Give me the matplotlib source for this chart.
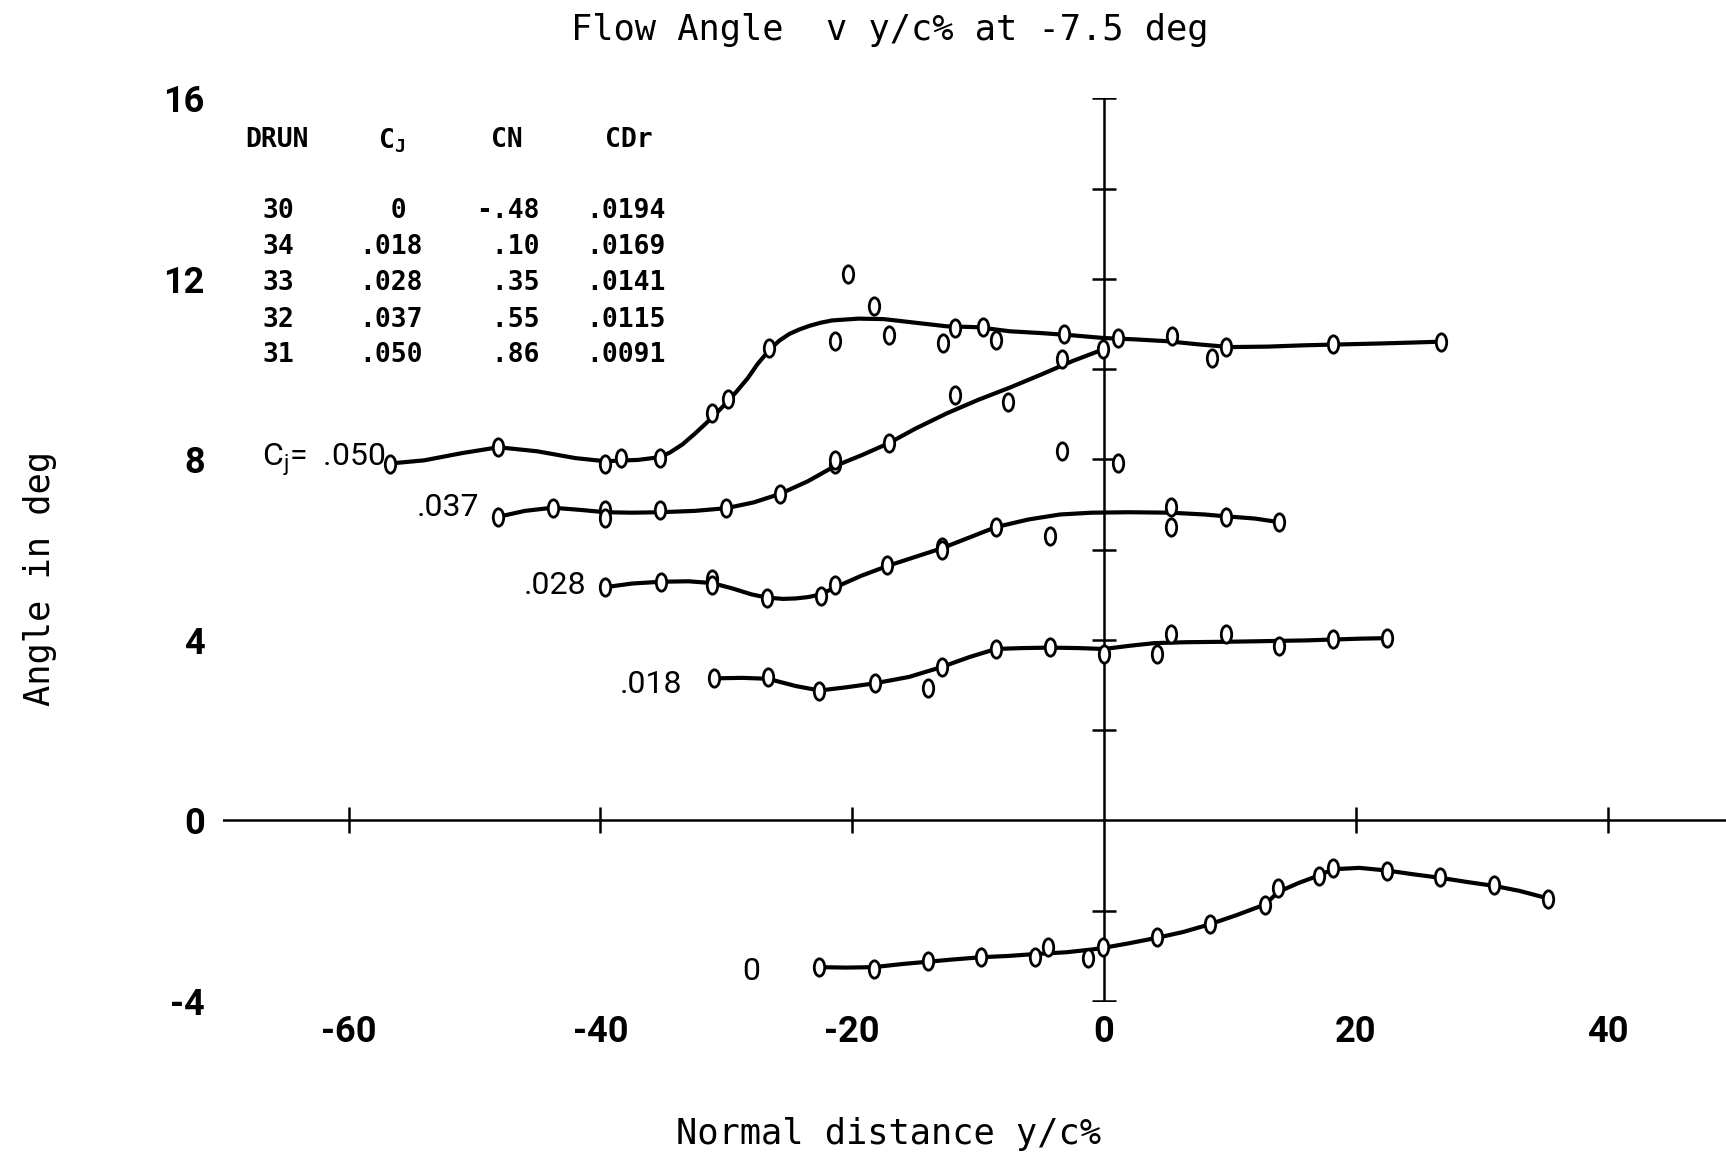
import matplotlib
matplotlib.use("Agg")
import matplotlib.pyplot as plt
from matplotlib.path import Path
from matplotlib.transforms import Affine2D

# ---------------- data ----------------
# Measured points (x = normal distance y/c %, y = flow angle deg) and faired curves
# DRUN 31, Cj = .050
pts050_x = [-56.7, -48.1, -39.6, -38.4, -35.3, -31.1, -29.9, -26.6, -21.4, -20.3, -18.3,
            -17.1, -12.8, -11.8, -9.6, -8.6, -3.2, 1.1, 5.4, 8.6, 9.7, 18.2, 26.8]
pts050_y = [7.91, 8.28, 7.91, 8.03, 8.03, 9.02, 9.34, 10.46, 10.63, 12.12, 11.41,
            10.75, 10.58, 10.92, 10.94, 10.65, 10.78, 10.68, 10.74, 10.24, 10.49, 10.55, 10.61]
fit050_x = [-56.7, -54, -51, -48.1, -45, -42, -39.6, -37, -35.3, -34.5, -33.5, -32.5,
            -31.5, -30.7, -30, -29.2, -28.3, -27.5, -26.6, -25.8, -25, -24.2, -23.4, -22.5,
            -21.6, -19.5, -17.5, -15, -12.5, -10, -7.5, -5, -2.5, 0,
            2.5, 5, 7.5, 10, 13, 16, 19, 22, 24.5, 26.8]
fit050_y = [7.91, 7.98, 8.14, 8.27, 8.18, 8.03, 7.96, 7.99, 8.05, 8.15, 8.33, 8.57,
            8.83, 9.05, 9.25, 9.5, 9.8, 10.12, 10.42, 10.63, 10.78, 10.88, 10.96, 11.03,
            11.08, 11.12, 11.11, 11.03, 10.95, 10.93, 10.84, 10.80, 10.75, 10.69,
            10.66, 10.62, 10.55, 10.49, 10.50, 10.53, 10.55, 10.57, 10.59, 10.61]

# DRUN 32, Cj = .037
pts037_x = [-48.1, -43.8, -39.6, -39.6, -35.3, -30.0, -25.7, -21.4, -21.4, -17.1, -11.8,
            -7.6, -3.3, -0.05, -3.3, 1.1]
pts037_y = [6.73, 6.93, 6.87, 6.70, 6.87, 6.92, 7.24, 7.89, 7.98, 8.36, 9.42,
            9.27, 10.22, 10.44, 8.19, 7.93]
fit037_x = [-48.1, -46, -43.8, -41.5, -39.6, -37.5, -35.3, -32.5, -30, -27.8, -25.7, -23.5,
            -21.4, -19.2, -17.1, -15, -12.5, -10, -7.5, -5, -2.5, -0.05]
fit037_y = [6.73, 6.86, 6.93, 6.88, 6.83, 6.82, 6.83, 6.86, 6.92, 7.05, 7.24, 7.52,
            7.85, 8.1, 8.36, 8.68, 9.02, 9.32, 9.59, 9.88, 10.18, 10.44]

# DRUN 33, Cj = .028
pts028_x = [-39.6, -35.2, -31.1, -31.1, -26.8, -22.5, -21.4, -17.2, -12.9, -12.9, -8.6,
            -4.3, 5.3, 5.3, 9.65, 13.9]
pts028_y = [5.17, 5.29, 5.36, 5.22, 4.92, 4.97, 5.21, 5.66, 6.05, 6.0, 6.50,
            6.30, 6.94, 6.51, 6.73, 6.61]
fit028_x = [-39.6, -37.5, -35.2, -33, -31.1, -29.5, -28, -26.8, -25.5, -24.5, -23.5, -22.5,
            -21.4, -19.3, -17.2, -15, -12.9, -10.7, -8.6, -6, -3.5, -1, 2, 5.3, 8, 9.65,
            12, 13.9]
fit028_y = [5.17, 5.25, 5.29, 5.30, 5.26, 5.14, 5.01, 4.94, 4.91, 4.92, 4.95, 5.01,
            5.16, 5.42, 5.64, 5.84, 6.03, 6.27, 6.50, 6.67, 6.78, 6.82, 6.83, 6.82, 6.78,
            6.74, 6.69, 6.61]

# DRUN 34, Cj = .018
pts018_x = [-31.0, -26.7, -22.6, -18.2, -14.0, -12.9, -8.6, -4.3, 0.0, 4.2, 5.3, 9.65,
            13.9, 18.2, 22.5]
pts018_y = [3.15, 3.17, 2.87, 3.05, 2.94, 3.40, 3.80, 3.85, 3.69, 3.69, 4.14, 4.14,
            3.87, 4.02, 4.04]
fit018_x = [-31.0, -28.7, -26.7, -24.5, -22.6, -20.5, -18.2, -15.5, -12.9, -10.7, -8.6,
            -6.5, -4.3, -2, 0, 2, 4, 6.5, 9.65, 12, 13.9, 16, 18.2, 20.5, 22.5]
fit018_y = [3.15, 3.16, 3.14, 2.98, 2.88, 2.95, 3.04, 3.18, 3.40, 3.62, 3.80,
            3.82, 3.83, 3.82, 3.80, 3.87, 3.93, 3.95, 3.96, 3.97, 3.98, 3.99, 4.01, 4.03, 4.04]

# DRUN 30, Cj = 0
pts000_x = [-22.6, -18.3, -14.0, -9.75, -5.5, -4.43, -1.24, -0.07, 4.18, 8.44, 12.8, 13.85,
            17.05, 18.2, 22.5, 26.7, 31.0, 35.3]
pts000_y = [-3.25, -3.29, -3.12, -3.02, -3.02, -2.80, -3.04, -2.80, -2.59, -2.29, -1.87, -1.50,
            -1.24, -1.06, -1.11, -1.26, -1.43, -1.73]
fit000_x = [-22.6, -20.5, -18.3, -16, -14, -12, -9.75, -7.5, -5.5, -3, -1, 0, 2, 4.2, 6.3,
            8.4, 10.5, 12.8, 13.85, 15.5, 17.05, 18.2, 20.3, 22.5, 24.5, 26.7, 29, 31, 33, 35.3]
fit000_y = [-3.25, -3.26, -3.25, -3.18, -3.13, -3.08, -3.03, -3.0, -2.96, -2.92, -2.86, -2.82,
            -2.72, -2.60, -2.47, -2.30, -2.10, -1.86, -1.58, -1.38, -1.22, -1.08, -1.05,
            -1.11, -1.19, -1.27, -1.37, -1.45, -1.56, -1.73]

# Run table
drun = ["30", "34", "33", "32", "31"]
cj_col = ["  0", ".018", ".028", ".037", ".050"]
cn_col = ["-.48", " .10", " .35", " .55", " .86"]
cdr_col = [".0194", ".0169", ".0141", ".0115", ".0091"]

# Curve labels (Cj) and their anchor points
curve_labels = [r"C$_\mathregular{j}$=  .050", ".037", ".028", ".018", "0"]
label_x = [-66.9, -54.6, -46.1, -38.5, -28.7]
label_y = [7.98, 6.93, 5.20, 3.02, -3.34]

x_ticks = [-60, -40, -20, 0, 20, 40]
y_ticks = [-4, 0, 4, 8, 12, 16]

# ---------------- figure ----------------
W, H = 1726, 1160
fig = plt.figure(figsize=(W / 100, H / 100), dpi=100)
fig.patch.set_facecolor("white")

ax_left = 222.7 / W
ax_bottom = (H - 1001.0) / H
ax_top = (H - 98.4) / H
ax = fig.add_axes([ax_left, ax_bottom, 1.0 - ax_left, ax_top - ax_bottom])
ax.set_xlim(-70, 49.4)
ax.set_ylim(-4, 16)
for s in ax.spines.values():
    s.set_visible(False)
ax.set_facecolor("none")

narrow = ["Roboto", "DejaVu Sans"]
mono = ["DejaVu Sans Mono", "DejaVu Sans"]

ax.set_xticks(x_ticks)
ax.set_yticks(y_ticks)
ax.set_xticklabels([str(v) for v in x_ticks])
ax.set_yticklabels([str(v) for v in y_ticks])
ax.tick_params(length=0, labelsize=26, colors="black")
ax.tick_params(axis="x", pad=9)
ax.tick_params(axis="y", pad=13)
for lab in ax.get_xticklabels() + ax.get_yticklabels():
    lab.set_family(narrow)
    lab.set_fontweight("bold")

# Cross axes through the origin
axis_lw = 1.8
ax.axhline(0, color="black", lw=axis_lw, zorder=1)
ax.axvline(0, color="black", lw=axis_lw, zorder=1)
xtick_marks = [v for v in x_ticks if v != 0]
ax.plot(xtick_marks, [0] * len(xtick_marks), ls="none", marker="|",
        markersize=19, mew=axis_lw, color="black", zorder=1)
ytick_marks = [v for v in range(-4, 17, 2) if v != 0]
ax.plot([0] * len(ytick_marks), ytick_marks, ls="none", marker="_",
        markersize=17, mew=axis_lw, color="black", zorder=1)

# Tall oval "0" marker
oval = Path.unit_circle().transformed(Affine2D().scale(0.6, 1.0))

series = [
    (fit050_x, fit050_y, pts050_x, pts050_y),
    (fit037_x, fit037_y, pts037_x, pts037_y),
    (fit028_x, fit028_y, pts028_x, pts028_y),
    (fit018_x, fit018_y, pts018_x, pts018_y),
    (fit000_x, fit000_y, pts000_x, pts000_y),
]
for fx, fy, px, py in series:
    ax.plot(fx, fy, color="black", lw=3.0, solid_joinstyle="round",
            solid_capstyle="round", zorder=2, clip_on=False)
    ax.plot(px, py, ls="none", marker=oval, markersize=12.5, mew=2.0,
            mfc="white", mec="black", zorder=3, clip_on=False)

for txt, lx, ly in zip(curve_labels, label_x, label_y):
    ax.text(lx, ly, txt, ha="left", va="center", fontsize=23,
            family=narrow, color="black", zorder=4)

# Run table
tab_kw = dict(fontsize=19, family=mono, fontweight="bold", va="center",
              ha="left", color="black")
ax.text(-68.2, 15.07, "DRUN", **tab_kw)
ax.text(-57.7, 15.07, r"C$_\mathregular{J}$", **tab_kw)
ax.text(-48.7, 15.07, "CN", **tab_kw)
ax.text(-39.6, 15.07, "CDr", **tab_kw)
row_y = [13.51, 12.71, 11.90, 11.10, 10.32]
for r, yy in enumerate(row_y):
    ax.text(-66.85, yy, drun[r], **tab_kw)
    ax.text(-59.15, yy, cj_col[r], **tab_kw)
    ax.text(-49.9, yy, cn_col[r], **tab_kw)
    ax.text(-41.1, yy, cdr_col[r], **tab_kw)

# Titles
fig.text(890 / W, 1 - 30 / H, "Flow Angle  v y/c% at -7.5 deg", ha="center",
         va="center", fontsize=25.5, family=mono)
fig.text(889 / W, 1 - 1134 / H, "Normal distance y/c%", ha="center",
         va="center", fontsize=25.5, family=mono)
fig.text(40 / W, 1 - 578 / H, "Angle in deg", ha="center", va="center",
         rotation=90, fontsize=25.5, family=mono)

fig.savefig("out.png", dpi=100, facecolor="white")
